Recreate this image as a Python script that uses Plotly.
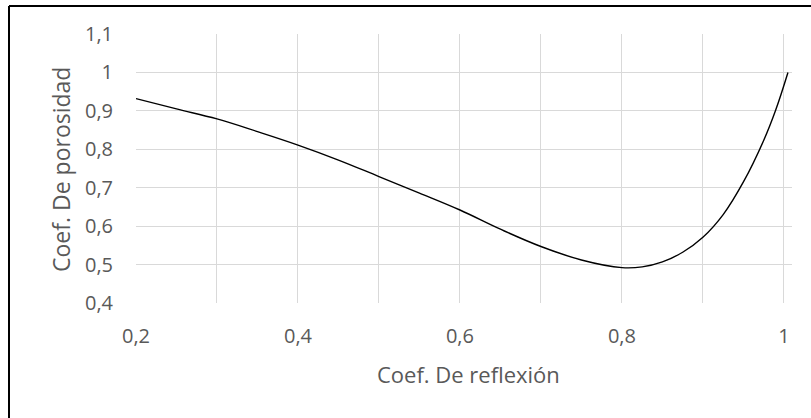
import plotly.graph_objects as go

# Coef. de reflexión vs coef. de porosidad
reflexion = [0.2, 0.25, 0.3, 0.35, 0.4, 0.45, 0.5, 0.55, 0.6, 0.65, 0.7,
             0.75, 0.8, 0.825, 0.85, 0.875, 0.9, 0.925, 0.95, 0.975, 0.99, 1.005]
porosidad = [0.932, 0.905, 0.879, 0.846, 0.811, 0.772, 0.729, 0.686, 0.642, 0.592, 0.547,
             0.512, 0.492, 0.494, 0.507, 0.532, 0.571, 0.63, 0.715, 0.823, 0.903, 1.0]

x_grid = [0.2, 0.3, 0.4, 0.5, 0.6, 0.7, 0.8, 0.9, 1.0]
x_labels = ['0,2', '', '0,4', '', '0,6', '', '0,8', '', '1']

W, H = 811, 418
L, R, T, B = 136, 19, 34, 115
pw, ph = W - L - R, H - T - B

label_font = dict(family='Open Sans', size=20, color='#595959')

fig = go.Figure()

fig.add_trace(go.Scatter(
    x=reflexion,
    y=porosidad,
    mode='lines',
    line=dict(color='black', width=1.4, shape='spline', smoothing=1.1),
    showlegend=False,
    hoverinfo='skip'
))

fig.update_xaxes(
    range=[0.2, 1.01],
    tickvals=x_grid,
    ticktext=x_labels,
    showgrid=True,
    gridcolor='#d9d9d9',
    gridwidth=1,
    zeroline=False,
    showline=False,
    ticks='',
    ticklabelstandoff=19,
    tickfont=label_font,
)

fig.update_yaxes(
    range=[0.4, 1.1],
    dtick=0.1,
    tick0=0.4,
    showgrid=True,
    gridcolor='#d9d9d9',
    gridwidth=1,
    zeroline=False,
    showline=False,
    ticks='',
    ticklabelstandoff=22,
    tickfont=label_font,
)

# títulos de ejes
fig.add_annotation(
    text='Coef. De reflexión', xref='paper', yref='paper',
    x=(469 - L) / pw, y=(H - B - 374) / ph,
    xanchor='center', yanchor='middle', showarrow=False,
    font=dict(family='Open Sans', size=22, color='#595959')
)
fig.add_annotation(
    text='Coef. De porosidad', xref='paper', yref='paper',
    x=(61 - L) / pw, y=(H - B - 170) / ph, textangle=-90,
    xanchor='center', yanchor='middle', showarrow=False,
    font=dict(family='Open Sans', size=23, color='#595959')
)

# marco negro del área del gráfico
fx = (9 - L) / pw
fy = 1 + (T - 6) / ph
fig.add_shape(type='line', xref='paper', yref='paper',
              x0=fx, x1=fx, y0=fy, y1=-0.6, line=dict(color='black', width=2))
fig.add_shape(type='line', xref='paper', yref='paper',
              x0=fx, x1=1.2, y0=fy, y1=fy, line=dict(color='black', width=2))

fig.update_layout(
    width=W,
    height=H,
    margin=dict(l=L, r=R, t=T, b=B),
    paper_bgcolor='white',
    plot_bgcolor='white',
    separators=',.',
    showlegend=False
)

fig.write_html("out.html", config={'displayModeBar': False},
               post_script="document.body.style.margin='0px';")
